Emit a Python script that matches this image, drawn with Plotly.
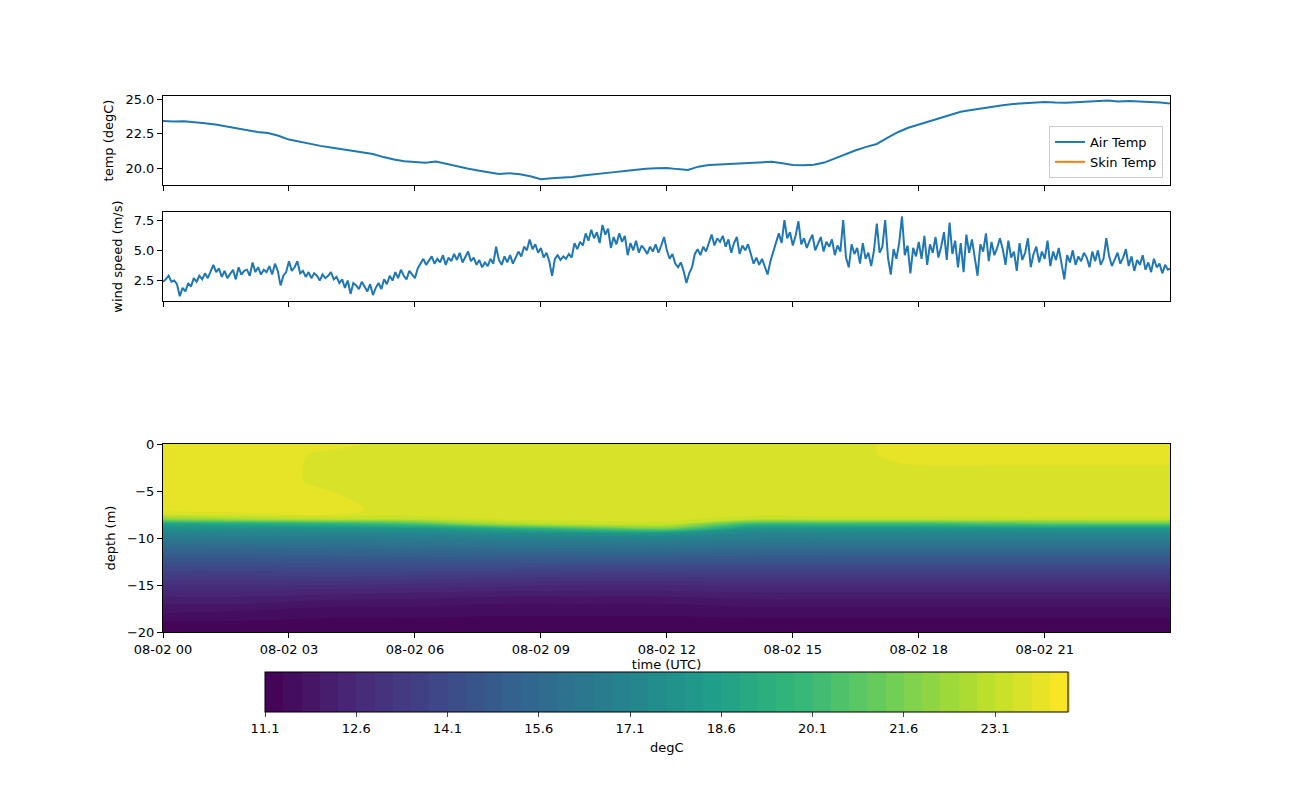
import pandas as pd
import plotly.graph_objects as go

from plotly.subplots import make_subplots


day = pd.Timestamp("2023-08-02 00:00")

# air temperature, every 15 minutes from 00:00 to 24:00
air_temp = [
    23.45, 23.40, 23.42, 23.36,
    23.28, 23.18, 23.05, 22.90,
    22.74, 22.64, 22.56, 22.36,
    22.08, 21.92, 21.74, 21.62,
    21.50, 21.38, 21.24, 21.12,
    21.02, 20.80, 20.62, 20.50,
    20.42, 20.38, 20.48, 20.30,
    20.14, 19.96, 19.82, 19.68,
    19.56, 19.62, 19.55, 19.40,
    19.18, 19.26, 19.30, 19.34,
    19.45, 19.55, 19.63, 19.70,
    19.78, 19.88, 19.95, 19.98,
    20.00, 19.92, 19.86, 20.10,
    20.22, 20.25, 20.30, 20.35,
    20.40, 20.45, 20.46, 20.35,
    20.22, 20.20, 20.24, 20.40,
    20.72, 21.00, 21.30, 21.55,
    21.76, 22.20, 22.62, 22.95,
    23.18, 23.45, 23.68, 23.92,
    24.12, 24.25, 24.38, 24.48,
    24.60, 24.68, 24.73, 24.78,
    24.84, 24.80, 24.78, 24.82,
    24.85, 24.88, 24.94, 24.87,
    24.90, 24.86, 24.84, 24.80,
    24.72,
]
# skin temperature has no valid readings in this period
skin_temp = [None] * len(air_temp)

# wind speed, every 4 minutes from 00:00 to 24:00
wind_speed = [
    2.4, 2.6, 2.9, 2.4, 2.5, 2.2, 1.2, 1.9, 1.6, 2.3, 2.0, 2.7, 2.4, 2.9, 2.6,
    3.1, 2.7, 3.3, 3.8, 3.2, 3.5, 2.8, 3.3, 2.7, 3.1, 3.4, 2.6, 3.6, 3.0, 3.3,
    3.4, 2.9, 4.0, 3.2, 3.6, 3.0, 3.4, 3.2, 3.7, 3.0, 3.9, 3.3, 2.1, 2.9, 3.2,
    4.1, 3.3, 3.6, 4.1, 3.1, 3.3, 2.8, 3.2, 2.7, 3.1, 2.9, 2.5, 3.0, 2.7, 2.9,
    3.2, 2.6, 2.8, 2.3, 2.6, 1.9, 2.5, 1.4, 2.3, 2.1, 1.8, 2.4, 2.0, 1.6, 2.2,
    1.3, 1.9, 2.3, 1.8, 2.6, 2.2, 2.9, 2.5, 3.2, 2.7, 3.4, 2.9, 2.6, 3.3, 3.0,
    2.7, 3.5, 3.9, 4.3, 3.8, 4.1, 4.5, 3.9, 4.3, 4.0, 4.6, 3.8, 4.4, 4.1, 4.7,
    4.2, 4.8, 4.0, 4.5, 4.9, 4.1, 4.4, 3.8, 4.2, 3.6, 4.0, 3.7, 4.3, 3.9, 5.3,
    4.2, 3.8, 4.5, 4.0, 4.6, 3.9, 4.4, 4.9, 4.5, 5.3, 5.0, 5.9, 5.1, 5.5, 4.8,
    5.2, 4.4, 4.8, 4.1, 2.9, 4.3, 4.6, 4.2, 4.5, 4.3, 4.7, 4.4, 5.6, 5.1, 5.7,
    5.4, 6.4, 5.8, 6.7, 6.0, 6.5, 5.6, 7.1, 6.3, 6.8, 5.2, 6.1, 5.5, 6.4, 5.7,
    6.2, 4.6, 5.6, 5.0, 5.8, 4.8, 5.4, 5.1, 4.7, 5.3, 4.9, 5.5, 4.8, 5.4, 6.1,
    5.0, 4.3, 4.7, 3.9, 3.6, 4.0, 3.3, 2.3, 3.1, 3.6, 4.7, 5.1, 4.6, 5.3, 4.9,
    5.6, 6.3, 5.4, 6.0, 5.7, 6.2, 5.3, 5.9, 4.8, 5.6, 6.1, 4.7, 5.4, 5.0, 5.5,
    4.6, 3.9, 4.4, 3.8, 4.3, 3.6, 3.0, 4.1, 4.9, 5.7, 6.4, 5.6, 7.5, 6.0, 6.5,
    5.4, 6.2, 7.4, 5.5, 6.0, 5.2, 5.8, 6.3, 5.0, 5.6, 6.1, 4.9, 5.7, 5.3, 5.9,
    4.6, 5.4, 4.9, 7.5, 4.4, 3.6, 5.5, 4.7, 5.2, 3.9, 5.6, 4.3, 4.8, 3.7, 5.0,
    7.2, 4.8, 5.3, 7.5, 4.4, 3.0, 5.1, 4.3, 5.6, 7.8, 4.6, 5.4, 3.1, 5.2, 4.5,
    5.7, 4.3, 6.2, 3.8, 5.5, 4.8, 6.1, 4.4, 5.3, 6.5, 4.2, 7.3, 4.7, 5.8, 3.6,
    5.6, 3.2, 6.3, 4.8, 5.9, 4.4, 2.9, 5.5, 4.9, 6.4, 4.1, 5.7, 4.6, 5.2, 6.0,
    5.1, 3.8, 5.8, 4.4, 4.9, 3.3, 5.6, 4.2, 4.8, 6.0, 3.6, 4.7, 5.3, 4.0, 4.9,
    4.3, 5.8, 3.7, 4.9, 4.2, 5.2, 3.9, 2.6, 4.6, 4.0, 5.0, 3.8, 4.5, 4.1, 4.8,
    4.4, 3.6, 4.9, 4.1, 5.0, 3.8, 4.3, 6.0, 4.5, 3.7, 4.2, 4.8, 3.9, 4.4, 5.1,
    3.7, 4.5, 3.3, 4.2, 3.8, 4.6, 3.4, 4.0, 3.2, 4.3, 3.6, 3.9, 3.1, 3.8, 3.4,
    3.5,
]

# water temperature profile: one row per depth, one column per heat_hours entry
heat_hours = [0, 2, 4, 6, 8, 10, 12, 14, 16, 18, 20, 22, 24]
depth = [0, -1, -2, -3, -4, -5, -6, -7, -7.5, -8, -8.5, -9, -9.5, -10,
         -11, -12, -13, -14, -15, -16, -17, -18, -19, -20]
water_temp = [
    [23.85, 23.85, 23.8, 23.55, 23.55, 23.55, 23.55, 23.55, 23.6, 23.8, 23.8, 23.8, 23.8],
    [23.85, 23.85, 23.65, 23.55, 23.55, 23.55, 23.55, 23.55, 23.6, 23.8, 23.8, 23.8, 23.8],
    [23.85, 23.8, 23.65, 23.55, 23.55, 23.55, 23.55, 23.55, 23.55, 23.75, 23.75, 23.75, 23.75],
    [23.85, 23.8, 23.65, 23.55, 23.55, 23.55, 23.55, 23.55, 23.55, 23.55, 23.55, 23.55, 23.55],
    [23.85, 23.8, 23.65, 23.55, 23.55, 23.55, 23.55, 23.55, 23.55, 23.55, 23.55, 23.55, 23.55],
    [23.85, 23.8, 23.7, 23.55, 23.55, 23.55, 23.55, 23.55, 23.55, 23.55, 23.55, 23.55, 23.55],
    [23.85, 23.85, 23.75, 23.55, 23.55, 23.55, 23.55, 23.55, 23.55, 23.55, 23.55, 23.55, 23.55],
    [23.8, 23.85, 23.8, 23.55, 23.55, 23.55, 23.55, 23.55, 23.55, 23.55, 23.55, 23.55, 23.55],
    [23.4, 23.6, 23.7, 23.5, 23.55, 23.55, 23.55, 23.5, 23.5, 23.5, 23.5, 23.5, 23.5],
    [22.0, 22.6, 23.0, 23.1, 23.45, 23.5, 23.5, 23.2, 23.2, 23.2, 23.3, 23.3, 23.3],
    [18.6, 19.0, 19.5, 20.5, 22.5, 23.2, 23.3, 20.0, 20.0, 20.0, 20.5, 20.8, 20.8],
    [17.6, 17.7, 17.8, 18.0, 19.0, 20.5, 21.5, 17.9, 17.9, 17.9, 18.0, 18.0, 18.0],
    [17.0, 17.1, 17.2, 17.3, 17.6, 17.8, 18.0, 17.2, 17.2, 17.2, 17.2, 17.3, 17.3],
    [16.5, 16.6, 16.6, 16.7, 16.9, 17.0, 17.1, 16.8, 16.8, 16.8, 16.8, 16.8, 16.8],
    [15.6, 15.6, 15.7, 15.8, 15.9, 16.0, 16.0, 15.8, 15.8, 15.8, 15.8, 15.8, 15.8],
    [14.8, 14.8, 14.9, 15.0, 15.0, 15.0, 15.0, 14.9, 14.9, 14.9, 14.9, 14.9, 14.9],
    [14.1, 14.1, 14.2, 14.2, 14.2, 14.1, 14.1, 14.1, 14.1, 14.1, 14.1, 14.1, 14.1],
    [13.5, 13.5, 13.6, 13.5, 13.4, 13.3, 13.3, 13.4, 13.4, 13.4, 13.4, 13.4, 13.4],
    [12.9, 12.9, 12.9, 12.8, 12.7, 12.6, 12.6, 12.7, 12.7, 12.7, 12.7, 12.7, 12.7],
    [12.4, 12.4, 12.3, 12.2, 12.1, 12.1, 12.1, 12.2, 12.2, 12.2, 12.2, 12.2, 12.2],
    [12.0, 12.0, 11.8, 11.8, 11.7, 11.7, 11.7, 11.8, 11.8, 11.8, 11.8, 11.8, 11.8],
    [11.7, 11.6, 11.5, 11.5, 11.45, 11.45, 11.45, 11.5, 11.5, 11.5, 11.5, 11.5, 11.5],
    [11.35, 11.35, 11.3, 11.3, 11.3, 11.3, 11.3, 11.3, 11.3, 11.3, 11.3, 11.3, 11.3],
    [11.2, 11.2, 11.2, 11.2, 11.2, 11.2, 11.2, 11.2, 11.2, 11.2, 11.2, 11.2, 11.2],
]
cbar_ticks = [11.1, 12.6, 14.1, 15.6, 17.1, 18.6, 20.1, 21.6, 23.1]

air_time = pd.date_range(day, periods=len(air_temp), freq="15min")
wind_time = pd.date_range(day, periods=len(wind_speed), freq="4min")
heat_time = [day + pd.Timedelta(hours=h) for h in heat_hours]

font = dict(family="DejaVu Sans", size=13, color="black")
axis_style = dict(showline=True, linecolor="black", linewidth=1, mirror=True,
                  ticks="outside", ticklen=5, tickcolor="black", showgrid=False,
                  zeroline=False, tickfont=font)

fig = make_subplots(rows=3, cols=1, shared_xaxes=True)

fig.add_trace(go.Scatter(x=air_time, y=air_temp, mode="lines", name="Air Temp",
                         line=dict(color="#1f77b4", width=2)), row=1, col=1)
fig.add_trace(go.Scatter(x=air_time, y=skin_temp, mode="lines", name="Skin Temp",
                         line=dict(color="#ff7f0e", width=2)), row=1, col=1)
fig.add_trace(go.Scatter(x=wind_time, y=wind_speed, mode="lines", showlegend=False,
                         line=dict(color="#1f77b4", width=2)), row=2, col=1)
fig.add_trace(go.Contour(
    x=heat_time, y=depth, z=water_temp, colorscale="Viridis",
    zmin=11.1, zmax=24.3, zauto=False, showlegend=False,
    contours=dict(start=11.1, end=24.3, size=0.3, coloring="fill", showlines=False),
    line=dict(width=0),
    colorbar=dict(orientation="h", lenmode="pixels", len=803, thickness=40,
                  x=0.5, xanchor="center", y=-0.0746, yanchor="top",
                  xpad=0, ypad=0, outlinecolor="black", outlinewidth=1,
                  tickmode="array", tickvals=cbar_ticks, ticktext=[str(t) for t in cbar_ticks],
                  ticks="outside", ticklen=5, tickfont=font),
), row=3, col=1)

x_range = [day, day + pd.Timedelta(minutes=1439)]
for r in (1, 2, 3):
    fig.update_xaxes(axis_style, range=x_range, dtick=3 * 3600 * 1000, tick0=day,
                     tickformat="%m-%d %H", row=r, col=1)
fig.update_xaxes(showticklabels=False, row=1, col=1)
fig.update_xaxes(showticklabels=False, row=2, col=1)
fig.update_xaxes(title=dict(text="time (UTC)", font=font, standoff=2), row=3, col=1)

fig.update_yaxes(axis_style, domain=[0.834, 1.0], range=[18.76, 25.27],
                 tickvals=[20.0, 22.5, 25.0], tickformat=".1f",
                 title=dict(text="temp (degC)", font=font, standoff=8), row=1, col=1)
fig.update_yaxes(axis_style, domain=[0.6175, 0.7836], range=[0.81, 8.17],
                 tickvals=[2.5, 5.0, 7.5], tickformat=".1f",
                 title=dict(text="wind speed (m/s)", font=font, standoff=8), row=2, col=1)
fig.update_yaxes(axis_style, domain=[0.0, 0.3507], range=[-20, 0],
                 tickvals=[0, -5, -10, -15, -20],
                 title=dict(text="depth (m)", font=font, standoff=8), row=3, col=1)

# colorbar label sits under the tick labels
fig.add_annotation(text="degC", xref="paper", yref="paper", x=0.5, y=-0.2146,
                   xanchor="center", yanchor="middle", showarrow=False, font=font)

fig.update_layout(
    width=1300, height=800,
    margin=dict(l=155, r=138, t=88, b=176),
    paper_bgcolor="white", plot_bgcolor="white",
    font=font,
    legend=dict(x=0.993, xanchor="right", y=0.847, yanchor="bottom",
                bgcolor="rgba(255,255,255,0.8)", bordercolor="#cccccc", borderwidth=1,
                font=font),
)

fig.write_html("out.html")
